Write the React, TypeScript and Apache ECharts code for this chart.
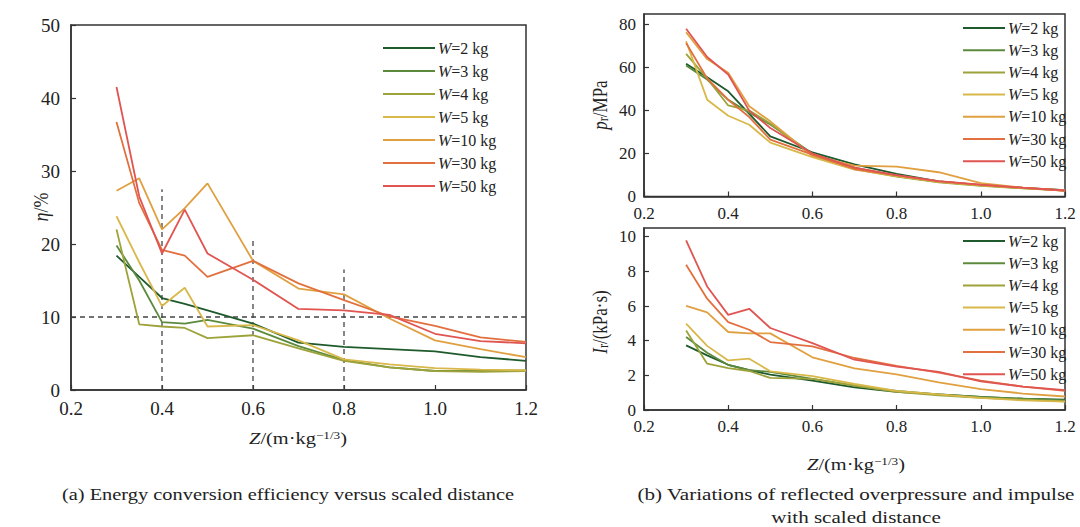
import React, { useEffect, useRef } from "react";
import * as echarts from "echarts";

const zs = [0.3, 0.35, 0.4, 0.45, 0.5, 0.6, 0.7, 0.8, 0.9, 1.0, 1.1, 1.2];
const names = ["W=2 kg", "W=3 kg", "W=4 kg", "W=5 kg", "W=10 kg", "W=30 kg", "W=50 kg"];
const colors = ["#1f5a2c", "#5c8a3c", "#9da33a", "#d9b84a", "#e0a040", "#e2703e", "#e05552"];

// (a) energy conversion efficiency eta (%)
const eta2 = [18.4, 15.5, 12.6, 11.8, 10.9, 9.1, 6.5, 5.9, 5.6, 5.3, 4.5, 4.0];
const eta3 = [19.8, 15.0, 9.3, 9.1, 9.6, 8.4, 6.0, 4.1, 3.1, 2.6, 2.6, 2.7];
const eta4 = [22.0, 9.0, 8.7, 8.5, 7.1, 7.5, 5.7, 4.0, 3.1, 2.6, 2.5, 2.6];
const eta5 = [23.8, 17.5, 11.5, 14.0, 8.7, 8.9, 6.8, 4.2, 3.5, 3.0, 2.8, 2.7];
const eta10 = [27.3, 29.0, 22.0, 24.9, 28.3, 17.7, 13.9, 13.1, 9.8, 6.8, 5.6, 4.5];
const eta30 = [36.7, 25.6, 19.2, 18.4, 15.5, 17.7, 14.6, 12.3, 10.1, 8.8, 7.2, 6.6];
const eta50 = [41.5, 26.5, 18.7, 24.7, 18.7, 15.1, 11.1, 10.9, 10.3, 7.7, 6.7, 6.4];

// (b) reflected overpressure pr (MPa)
const pr2 = [61.8, 55.5, 49.0, 38.5, 28.0, 20.6, 15.0, 10.5, 7.0, 5.3, 4.0, 3.0];
const pr3 = [61.0, 54.5, 45.0, 39.0, 33.5, 20.0, 13.5, 9.5, 6.8, 5.2, 3.9, 2.9];
const pr4 = [66.4, 55.0, 42.4, 40.0, 34.0, 19.0, 12.8, 9.3, 6.6, 5.0, 3.8, 2.8];
const pr5 = [72.3, 45.1, 37.6, 33.4, 25.1, 18.3, 12.5, 9.5, 6.8, 5.2, 3.9, 2.8];
const pr10 = [76.5, 64.0, 57.6, 42.0, 35.0, 19.0, 14.4, 13.9, 11.3, 6.2, 4.1, 2.6];
const pr30 = [71.5, 55.0, 45.0, 37.0, 26.5, 19.5, 12.8, 9.8, 7.0, 5.4, 4.0, 2.7];
const pr50 = [78.1, 65.0, 56.8, 40.0, 31.9, 20.0, 13.5, 10.0, 7.2, 5.5, 4.1, 2.8];

// (b) reflected impulse Ir (kPa·s)
const ir2 = [3.73, 3.15, 2.61, 2.3, 2.04, 1.7, 1.3, 1.05, 0.9, 0.75, 0.65, 0.6];
const ir3 = [4.21, 3.3, 2.6, 2.3, 2.2, 1.8, 1.4, 1.1, 0.9, 0.75, 0.65, 0.55];
const ir4 = [4.59, 2.67, 2.42, 2.25, 1.85, 1.8, 1.4, 1.05, 0.85, 0.7, 0.6, 0.5];
const ir5 = [4.98, 3.7, 2.86, 2.96, 2.23, 1.95, 1.5, 1.1, 0.9, 0.7, 0.55, 0.48];
const ir10 = [6.01, 5.63, 4.5, 4.42, 4.42, 3.04, 2.4, 2.05, 1.6, 1.2, 0.95, 0.78];
const ir30 = [8.38, 6.42, 5.07, 4.63, 3.92, 3.67, 3.0, 2.55, 2.15, 1.7, 1.35, 1.1];
const ir50 = [9.78, 7.13, 5.49, 5.84, 4.73, 3.86, 2.9, 2.5, 2.2, 1.65, 1.35, 1.15];

// reference lines in (a)
const refZ = [0.4, 0.6, 0.8];
const refTop = [27.5, 20.5, 16.5];
const refEta = 10;

const etaSets = [eta2, eta3, eta4, eta5, eta10, eta30, eta50];
const prSets = [pr2, pr3, pr4, pr5, pr10, pr30, pr50];
const irSets = [ir2, ir3, ir4, ir5, ir10, ir30, ir50];

const FONT = "Liberation Serif";
const AX = "#333";

function makeX(gi: number, fs: number, margin: number) {
  return {
    type: "value",
    gridIndex: gi,
    min: 0.2,
    max: 1.2,
    interval: 0.2,
    axisLine: { lineStyle: { color: AX, width: 1.5 } },
    axisTick: { inside: true, length: 5, lineStyle: { color: AX, width: 1.2 } },
    axisLabel: { color: "#222", fontFamily: FONT, fontSize: fs, margin, formatter: (v: number) => v.toFixed(1) },
    splitLine: { show: false },
  };
}
function makeY(gi: number, max: number, interval: number, fs: number, margin: number) {
  return {
    type: "value",
    gridIndex: gi,
    min: 0,
    max,
    interval,
    axisLine: { show: true, lineStyle: { color: AX, width: 1.5 } },
    axisTick: { show: true, inside: true, length: 5, lineStyle: { color: AX, width: 1.2 } },
    axisLabel: { color: "#222", fontFamily: FONT, fontSize: fs, margin, showMaxLabel: max % interval === 0 },
    splitLine: { show: false },
  };
}
function makeLegend(left: number, top: number, itemWidth: number, gap: number, fs: number) {
  return {
    orient: "vertical",
    left,
    top,
    icon: "rect",
    itemWidth,
    itemHeight: 2,
    itemGap: gap,
    selectedMode: false,
    data: names,
    formatter: (n: string) => n.replace("W", "{i|W}"),
    textStyle: {
      fontFamily: FONT,
      fontSize: fs,
      color: "#222",
      lineHeight: 18,
      padding: [0, 0, 0, -2],
      rich: { i: { fontStyle: "italic", fontFamily: FONT, fontSize: fs, color: "#222" } },
    },
  };
}

export default function App() {
  const ref = useRef<HTMLDivElement>(null);
  useEffect(() => {
    if (!ref.current) return;
    const chart = echarts.init(ref.current, null, { renderer: "svg" });
    const series: any[] = [];
    const sets = [etaSets, prSets, irSets];
    sets.forEach((group, gi) => {
      group.forEach((vals, k) => {
        series.push({
          type: "line",
          name: names[k],
          xAxisIndex: gi,
          yAxisIndex: gi,
          symbol: "none",
          data: zs.map((z, j) => [z, vals[j]]),
          lineStyle: { color: colors[k], width: 1.8 },
          itemStyle: { color: colors[k] },
          z: 3,
        });
      });
    });
    // dashed reference lines in (a)
    refZ.forEach((z, k) => {
      series.push({
        type: "line",
        name: "ref" + k,
        xAxisIndex: 0,
        yAxisIndex: 0,
        symbol: "none",
        data: [[z, 0], [z, refTop[k]]],
        lineStyle: { color: "#444", width: 1.3, type: [5, 4] },
        z: 2,
      });
    });
    series.push({
      type: "line",
      name: "refH",
      xAxisIndex: 0,
      yAxisIndex: 0,
      symbol: "none",
      data: [[0.2, refEta], [1.2, refEta]],
      lineStyle: { color: "#444", width: 1.3, type: [5, 4] },
      z: 2,
    });

    const txt = (x: number, y: number, text: string, fs: number, rich: any, rotation = 0, scaleX = 1.2) => ({
      type: "text",
      x,
      y,
      rotation,
      scaleX: rotation ? 1 : scaleX,
      scaleY: rotation ? scaleX : 1,
      style: {
        text,
        fontFamily: FONT,
        fontSize: fs,
        fill: "#222",
        align: "center",
        verticalAlign: "middle",
        rich,
      },
    });
    const richBase = (fs: number) => ({
      i: { fontStyle: "italic", fontFamily: FONT, fontSize: fs, fill: "#222" },
      sup: { fontFamily: FONT, fontSize: Math.round(fs * 0.62), fill: "#222", verticalAlign: "top", lineHeight: fs },
      sub: { fontFamily: FONT, fontSize: Math.round(fs * 0.68), fill: "#222", verticalAlign: "bottom", lineHeight: fs },
    });

    chart.setOption({
      animation: false,
      backgroundColor: "#fff",
      grid: [
        { left: 71, top: 25, width: 455, height: 365, show: true, borderColor: AX, borderWidth: 1.5 },
        { left: 644, top: 14, width: 421, height: 182.5, show: true, borderColor: AX, borderWidth: 1.5 },
        { left: 644, top: 228, width: 421, height: 182, show: true, borderColor: AX, borderWidth: 1.5 },
      ],
      xAxis: [makeX(0, 19, 9), makeX(1, 17, 8), makeX(2, 17, 8)],
      yAxis: [makeY(0, 50, 10, 19, 11), makeY(1, 85, 20, 17, 8), makeY(2, 10.5, 2, 17, 8)],
      legend: [
        makeLegend(378, 34, 52, 5, 16),
        makeLegend(958, 14, 42, 4.2, 16),
        makeLegend(958, 227, 42, 4.2, 16),
      ],
      series,
      graphic: [
        txt(40, 207, "{i|η}/%", 18, richBase(18), Math.PI / 2),
        txt(298, 438, "{i|Z}/(m·kg{sup|−1/3})", 17, richBase(17)),
        txt(600, 105, "{i|p}{sub|r}/MPa", 17, richBase(17), Math.PI / 2),
        txt(600, 322, "{i|I}{sub|r}/(kPa·s)", 17, richBase(17), Math.PI / 2),
        txt(856, 464, "{i|Z}/(m·kg{sup|−1/3})", 17, richBase(17)),
        txt(288, 494, "(a) Energy conversion efficiency versus scaled distance", 17, richBase(17), 0, 1.2),
        txt(856, 494, "(b) Variations of reflected overpressure and impulse", 17, richBase(17), 0, 1.24),
        txt(856, 517, "with scaled distance", 17, richBase(17), 0, 1.24),
      ],
    });
    return () => chart.dispose();
  }, []);
  return <div ref={ref} style={{ position: "fixed", left: 0, top: 0, width: 1080, height: 527 }} />;
}
